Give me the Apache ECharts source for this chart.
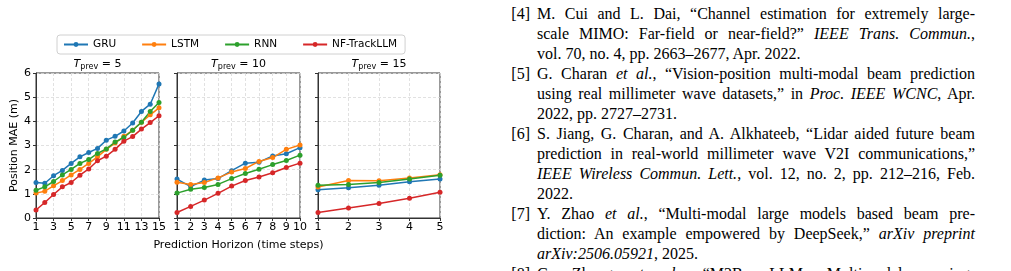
<!DOCTYPE html>
<html>
<head>
<meta charset="utf-8">
<script src="https://cdn.jsdelivr.net/npm/echarts@6/dist/echarts.min.js"></script>
<style>
  html, body { margin: 0; padding: 0; background: #fff; overflow: hidden; }
  #chart { position: absolute; left: 0; top: 0; width: 470px; height: 271px; }
  .ln { position: absolute; left: 537px; width: 438px; height: 20px; line-height: 20px;
        font-family: "Liberation Serif", "DejaVu Serif", serif; font-size: 16px; color: #000;
        text-align: justify; text-align-last: justify; white-space: nowrap; }
  .ln.last { text-align-last: left; }
  .lb { position: absolute; width: 30px; left: 500px; text-align: right; height: 20px; line-height: 20px;
        font-family: "Liberation Serif", "DejaVu Serif", serif; font-size: 16px; color: #000; }
</style>
</head>
<body>
<div id="chart"></div>
<div id="refs">
  <div class="lb" style="top:4px">[4]</div>
  <div class="ln" style="top:4px">M. Cui and L. Dai, “Channel estimation for extremely large-</div>
  <div class="ln" style="top:24px">scale MIMO: Far-field or near-field?” <i>IEEE Trans. Commun.</i>,</div>
  <div class="ln last" style="top:44px">vol. 70, no. 4, pp. 2663–2677, Apr. 2022.</div>
  <div class="lb" style="top:64px">[5]</div>
  <div class="ln" style="top:64px">G. Charan <i>et al.</i>, “Vision-position multi-modal beam prediction</div>
  <div class="ln" style="top:84px">using real millimeter wave datasets,” in <i>Proc. IEEE WCNC</i>, Apr.</div>
  <div class="ln last" style="top:104px">2022, pp. 2727–2731.</div>
  <div class="lb" style="top:124px">[6]</div>
  <div class="ln" style="top:124px">S. Jiang, G. Charan, and A. Alkhateeb, “Lidar aided future beam</div>
  <div class="ln" style="top:144px">prediction in real-world millimeter wave V2I communications,”</div>
  <div class="ln" style="top:164px"><i>IEEE Wireless Commun. Lett.</i>, vol. 12, no. 2, pp. 212–216, Feb.</div>
  <div class="ln last" style="top:184px">2022.</div>
  <div class="lb" style="top:204px">[7]</div>
  <div class="ln" style="top:204px">Y. Zhao <i>et al.</i>, “Multi-modal large models based beam pre-</div>
  <div class="ln" style="top:224px">diction: An example empowered by DeepSeek,” <i>arXiv preprint</i></div>
  <div class="ln last" style="top:244px"><i>arXiv:2506.05921</i>, 2025.</div>
  <div class="lb" style="top:264px">[8]</div>
  <div class="ln" style="top:264px">G. Zhang <i>et al.</i>, “M2BeamLLM: Multimodal sensing-</div>
</div>
<script>
// horizons for the three panels
var horizon5 = [1, 2, 3, 4, 5, 6, 7, 8, 9, 10, 11, 12, 13, 14, 15];
var horizon10 = [1, 2, 3, 4, 5, 6, 7, 8, 9, 10];
var horizon15 = [1, 2, 3, 4, 5];

// position MAE (m), T_prev = 5
var gru5 = [1.47, 1.44, 1.75, 1.97, 2.26, 2.53, 2.71, 2.88, 3.22, 3.38, 3.60, 3.93, 4.41, 4.71, 5.55];
var lstm5 = [1.03, 1.11, 1.33, 1.55, 1.78, 2.01, 2.26, 2.53, 2.84, 3.10, 3.38, 3.63, 3.96, 4.27, 4.56];
var rnn5 = [1.15, 1.29, 1.51, 1.78, 2.01, 2.26, 2.42, 2.67, 2.86, 3.14, 3.33, 3.63, 3.96, 4.41, 4.78];
var nf5 = [0.33, 0.64, 0.97, 1.29, 1.47, 1.77, 2.03, 2.37, 2.56, 2.84, 3.18, 3.37, 3.68, 3.95, 4.23];

// T_prev = 10
var gru10 = [1.61, 1.30, 1.57, 1.63, 1.96, 2.27, 2.31, 2.57, 2.66, 2.91];
var lstm10 = [1.48, 1.39, 1.47, 1.66, 1.90, 2.05, 2.34, 2.50, 2.84, 3.02];
var rnn10 = [1.03, 1.19, 1.26, 1.39, 1.63, 1.84, 2.02, 2.21, 2.38, 2.60];
var nf10 = [0.23, 0.48, 0.74, 1.02, 1.32, 1.55, 1.70, 1.87, 2.09, 2.27];

// T_prev = 15
var gru15 = [1.17, 1.25, 1.36, 1.50, 1.61];
var lstm15 = [1.28, 1.55, 1.54, 1.66, 1.79];
var rnn15 = [1.36, 1.39, 1.47, 1.61, 1.77];
var nf15 = [0.23, 0.41, 0.60, 0.82, 1.07];

var methodNames = ['GRU', 'LSTM', 'RNN', 'NF-TrackLLM'];
var methodColors = ['#1f77b4', '#ff7f0e', '#2ca02c', '#d62728'];
var panelTitles = ['5', '10', '15'];
var yTicks = [0, 6, 1]; // min, max, step

var FONT = 'DejaVu Sans';
var SPINE = '#333';

// panel geometry
var panels = [
  { left: 36, width: 123, hor: horizon5, step: 2, data: [gru5, lstm5, rnn5, nf5] },
  { left: 177, width: 123, hor: horizon10, step: 1, data: [gru10, lstm10, rnn10, nf10] },
  { left: 318, width: 122, hor: horizon15, step: 1, data: [gru15, lstm15, rnn15, nf15] }
];

function pairs(xs, ys) {
  return xs.map(function (x, i) { return [x, ys[i]]; });
}

var chart = echarts.init(document.getElementById('chart'), null, { renderer: 'canvas' });

var grids = [], xAxes = [], yAxes = [], series = [], graphics = [];

panels.forEach(function (p, k) {
  grids.push({ left: p.left, top: 73, width: p.width, height: 145, show: true,
    borderColor: SPINE, borderWidth: 1, backgroundColor: 'transparent' });
  var hor = p.hor;
  xAxes.push({
    gridIndex: k, type: 'value', min: hor[0], max: hor[hor.length - 1], interval: p.step,
    name: k === 1 ? 'Prediction Horizon (time steps)' : '',
    nameLocation: 'middle', nameGap: 22,
    nameTextStyle: { fontFamily: FONT, fontSize: 11, color: '#000' },
    axisLine: { lineStyle: { color: SPINE, width: 1 } },
    axisTick: { length: 3, lineStyle: { color: SPINE } },
    axisLabel: { fontFamily: FONT, fontSize: 11, color: '#000', margin: 4 },
    splitLine: { show: true, lineStyle: { color: '#d9d9d9', type: [3, 2], width: 0.8 } }
  });
  yAxes.push({
    gridIndex: k, type: 'value', min: yTicks[0], max: yTicks[1], interval: yTicks[2],
    name: k === 0 ? 'Position MAE (m)' : '',
    nameLocation: 'middle', nameGap: 15,
    nameTextStyle: { fontFamily: FONT, fontSize: 11, color: '#000' },
    axisLine: { show: true, lineStyle: { color: SPINE, width: 1 } },
    axisTick: { show: true, length: 3, lineStyle: { color: SPINE } },
    axisLabel: { show: k === 0, fontFamily: FONT, fontSize: 11, color: '#000', margin: 5 },
    splitLine: { show: true, lineStyle: { color: '#d9d9d9', type: [3, 2], width: 0.8 } }
  });
  p.data.forEach(function (ys, m) {
    series.push({
      name: methodNames[m], type: 'line', xAxisIndex: k, yAxisIndex: k,
      data: pairs(hor, ys), symbol: 'circle', symbolSize: 5, showSymbol: true,
      color: methodColors[m], lineStyle: { width: 1.5, color: methodColors[m] },
      itemStyle: { color: methodColors[m] }, animation: false
    });
  });
  // panel title T_prev = n
  graphics.push({
    type: 'text', x: p.left + p.width / 2, y: 64,
    style: {
      text: '{i|T}{s|prev}{n| = ' + panelTitles[k] + '}',
      align: 'center', verticalAlign: 'middle',
      rich: {
        i: { fontFamily: FONT, fontStyle: 'italic', fontSize: 11, fill: '#000' },
        s: { fontFamily: FONT, fontSize: 8, fill: '#000', padding: [6, 0, 0, 0] },
        n: { fontFamily: FONT, fontSize: 11, fill: '#000' }
      }
    }
  });
});

var option = {
  animation: false,
  backgroundColor: '#fff',
  grid: grids,
  xAxis: xAxes,
  yAxis: yAxes,
  legend: {
    data: methodNames, left: 57, top: 35,
    borderColor: '#d0d0d0', borderWidth: 1, borderRadius: 3,
    padding: [4, 8, 4, 6], itemWidth: 24, itemHeight: 6, itemGap: 25,
    textStyle: { fontFamily: FONT, fontSize: 10.5, color: '#000' }
  },
  graphic: graphics,
  series: series
};

chart.setOption(option);
</script>
</body>
</html>
